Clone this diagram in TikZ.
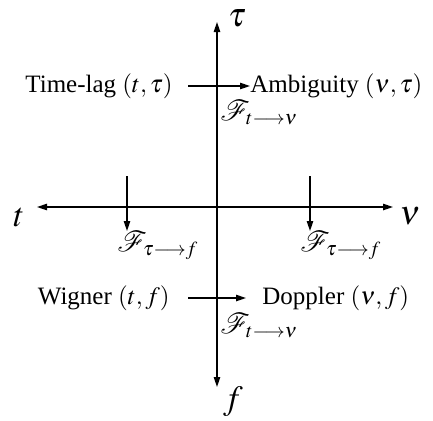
\documentclass[tikz,border=0pt]{standalone}
\usepackage{mathptmx}
\usepackage{mathrsfs}
\usepackage[no-math]{fontspec}
\setmainfont{Liberation Serif}
\usetikzlibrary{arrows.meta}
\begin{document}
\begin{tikzpicture}[x=0.5pt,y=-0.5pt,
  axis/.style={line width=0.7pt,-{Triangle[length=5pt,width=3.2pt]}},
  ft/.style={line width=0.7pt,-{Triangle[length=5pt,width=3.2pt]}},
  lbl/.style={inner sep=0pt,font=\fontsize{12.5}{14}\selectfont},
  axl/.style={inner sep=0pt,font=\fontsize{17}{19}\selectfont},
  fl/.style={inner sep=0pt,font=\fontsize{13.5}{15}\selectfont}]
\useasboundingbox (0,0) rectangle (433,420);
\coordinate (top) at (217,22);
\coordinate (bot) at (217,387);
\coordinate (left) at (37,207);
\coordinate (right) at (393,207);
\coordinate (c) at (217,207);
\draw[axis] (c) -- (top);
\draw[axis] (c) -- (bot);
\draw[axis] (c) -- (left);
\draw[axis] (c) -- (right);
\node[axl] (taul) at (237,18) {$\tau$};
\node[axl] (fl) at (233,402) {$f$};
\node[axl] (tl) at (19,217) {$t$};
\node[axl] (nul) at (410,216) {$\nu$};
% top row
\node[lbl,anchor=east] (tl1) at (173,86) {Time-lag $(t,\tau)$};
\node[lbl,anchor=west] (amb) at (250,86) {Ambiguity $(\nu,\tau)$};
\draw[ft,shorten <=7.5pt] (tl1) -- (amb);
\node[fl,anchor=west] (f1) at (220,113) {$\mathscr{F}_{t\longrightarrow\nu}$};
% bottom row
\node[lbl,anchor=east] (wig) at (170,298) {Wigner $(t,f)$};
\node[lbl,anchor=west] (dop) at (262,298) {Doppler $(\nu,f)$};
\draw[ft,shorten <=9pt,shorten >=8pt] (wig) -- (dop);
\node[fl,anchor=west] (f2) at (220,326) {$\mathscr{F}_{t\longrightarrow\nu}$};
% vertical arrows
\node[fl,anchor=north west] (f3) at (117,231) {$\mathscr{F}_{\tau\longrightarrow f}$};
\node[fl,anchor=north west] (f4) at (300,231) {$\mathscr{F}_{\tau\longrightarrow f}$};
\coordinate (s3) at (127,176);
\coordinate (s4) at (310,176);
\draw[ft] (s3) -- (s3 |- f3.north);
\draw[ft] (s4) -- (s4 |- f4.north);
\end{tikzpicture}
\end{document}
